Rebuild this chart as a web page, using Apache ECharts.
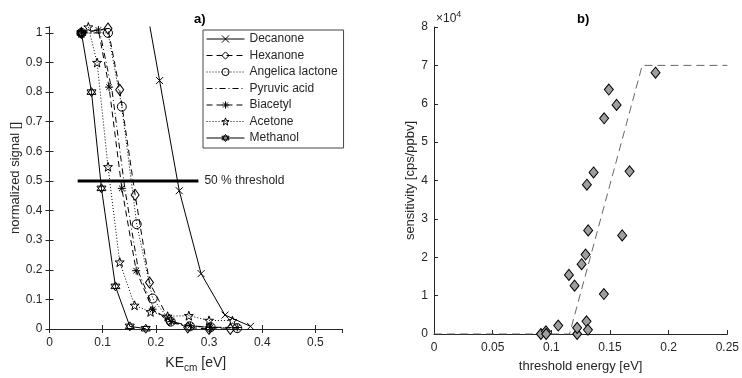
<!DOCTYPE html>
<html>
<head>
<meta charset="utf-8">
<script src="https://cdn.jsdelivr.net/npm/echarts@6/dist/echarts.min.js"></script>
<style>
html, body { margin: 0; padding: 0; background: #fff; }
#main { width: 742px; height: 378px; }
</style>
</head>
<body>
<div id="main"></div>
<script>
// panel a) normalized signal vs KE_cm, [x, y]
var decanone = [[0.161, 1.3], [0.207, 0.839], [0.244, 0.467], [0.285, 0.187], [0.330, 0.047], [0.378, 0.009]];
var hexanone = [[0.06, 1.0], [0.110, 1.015], [0.132, 0.808], [0.161, 0.453], [0.188, 0.157], [0.225, 0.03], [0.260, 0.005], [0.300, 0.0], [0.340, 0.0]];
var angelica = [[0.06, 1.0], [0.11, 1.0], [0.136, 0.751], [0.164, 0.354], [0.194, 0.103], [0.228, 0.025], [0.264, 0.009], [0.303, 0.006], [0.353, 0.003]];
var pyruvic = [[0.06, 1.0], [0.095, 1.0], [0.118, 0.80], [0.142, 0.47], [0.168, 0.19], [0.198, 0.06], [0.23, 0.02], [0.265, 0.01], [0.305, 0.005], [0.355, 0.003]];
var biacetyl = [[0.06, 1.0], [0.092, 1.01], [0.112, 0.817], [0.136, 0.475], [0.163, 0.197], [0.194, 0.067], [0.229, 0.025], [0.265, 0.011], [0.303, 0.006], [0.353, 0.005]];
var acetone = [[0.06, 1.0], [0.073, 1.02], [0.0895, 0.90], [0.110, 0.548], [0.132, 0.226], [0.160, 0.08], [0.19, 0.058], [0.222, 0.043], [0.262, 0.045], [0.30, 0.029], [0.344, 0.028]];
var methanol = [[0.06, 1.0], [0.079, 0.80], [0.0977, 0.475], [0.124, 0.144], [0.151, 0.009], [0.181, 0.001]];
var threshold = [[0.053, 0.5], [0.280, 0.5]];

// panel b) sensitivity vs threshold energy
var thrEnergy = [0.0911, 0.0954, 0.0956, 0.1059, 0.115, 0.1198, 0.122, 0.122, 0.1258, 0.1292, 0.130, 0.1312, 0.1314, 0.1303, 0.136, 0.1448, 0.1604, 0.1667, 0.145, 0.149, 0.1556, 0.1888];
var sensitivity = [0, 700, 0, 2200, 15400, 12600, 0, 1600, 18200, 20700, 3300, 1100, 27000, 38900, 42100, 10400, 25700, 42400, 56200, 63700, 59700, 68100];
var fitX = [0, 0.1155, 0.1775, 0.25];
var fitY = [0, 0, 70000, 70000];

var txt = '#262626';
var font = 'Liberation Sans, Arial, sans-serif';

var symX = 'path://M0,0L10,10M10,0L0,10';
var symAst = 'path://M5,0L5,10M0,5L10,5M1.5,1.5L8.5,8.5M8.5,1.5L1.5,8.5';
var symStar = 'path://M5,0L6.18,3.38L9.76,3.45L6.9,5.62L7.94,9.05L5,7L2.06,9.05L3.1,5.62L0.24,3.45L3.82,3.38Z';
var symHex = 'path://M5,0L9.33,7.5L0.67,7.5ZM5,10L0.67,2.5L9.33,2.5Z';

function curve(name, data, sym, size, dash) {
	return {
		name: name,
		type: 'line',
		xAxisIndex: 0,
		yAxisIndex: 0,
		data: data,
		symbol: sym,
		symbolSize: size,
		showAllSymbol: true,
		clip: true,
		lineStyle: { color: '#000', width: 1, type: dash },
		itemStyle: { color: 'rgba(255,255,255,0)', borderColor: '#000', borderWidth: 1 },
		emphasis: { disabled: true },
		z: 3
	};
}

function box(gi, pos, min, max, step) {
	return {
		type: 'value', gridIndex: gi, position: pos,
		min: min, max: max, interval: step,
		axisLine: { show: true, lineStyle: { color: txt, width: 1 } },
		axisTick: { show: true, inside: true, length: 4, lineStyle: { color: txt } },
		axisLabel: { show: false },
		splitLine: { show: false }
	};
}

var chart = echarts.init(document.getElementById('main'));
var option = {
	animation: false,
	backgroundColor: '#fff',
	textStyle: { fontFamily: font },
	title: [
		{ text: 'a)', left: 189, top: 8, textStyle: { fontSize: 13, fontWeight: 'bold', color: '#000', fontFamily: font } },
		{ text: 'b)', left: 572, top: 8, textStyle: { fontSize: 13, fontWeight: 'bold', color: '#000', fontFamily: font } }
	],
	grid: [
		{ left: 49.5, right: 400, top: 27, bottom: 42 },
		{ left: 434, right: 14, top: 27, bottom: 42 }
	],
	legend: {
		data: ['Decanone', 'Hexanone', 'Angelica lactone',
			{ name: 'Pyruvic acid', itemStyle: { color: 'rgba(0,0,0,0)', borderWidth: 0 } },
			'Biacetyl', 'Acetone', 'Methanol'],
		orient: 'vertical',
		left: 203, top: 30,
		itemWidth: 38, itemHeight: 9, itemGap: 4.5,
		padding: [3, 6, 4, 3],
		borderColor: '#444', borderWidth: 1,
		backgroundColor: '#fff',
		lineStyle: { width: 1 },
		itemStyle: { color: 'rgba(255,255,255,0)', borderColor: '#000', borderWidth: 1 },
		textStyle: { fontSize: 12, color: txt, fontFamily: font },
		selectedMode: false
	},
	graphic: [{
		type: 'text', left: 436, top: 10,
		style: {
			text: '{a|×10}{b|4}',
			rich: {
				a: { fontSize: 12, fill: txt, fontFamily: font, padding: [4, 0, 0, 0] },
				b: { fontSize: 9, fill: txt, fontFamily: font, padding: [0, 0, 4, 0] }
			}
		}
	}],
	xAxis: [{
		type: 'value', gridIndex: 0, min: 0, max: 0.55, interval: 0.1,
		name: '{n|KE}{s|cm}{n| [eV]}', nameLocation: 'middle', nameGap: 25,
		nameTextStyle: {
			rich: {
				n: { fontSize: 14, color: txt, fontFamily: font },
				s: { fontSize: 10, color: txt, fontFamily: font, padding: [9, 0, 0, 0] }
			}
		},
		axisLine: { lineStyle: { color: txt } },
		axisTick: { inside: true, length: 4, lineStyle: { color: txt } },
		axisLabel: { color: txt, fontSize: 12, margin: 8, showMaxLabel: false, fontFamily: font },
		splitLine: { show: false }
	}, box(0, 'top', 0, 0.55, 0.1), {
		type: 'value', gridIndex: 1, min: 0, max: 0.25, interval: 0.05,
		name: 'threshold energy [eV]', nameLocation: 'middle', nameGap: 26,
		nameTextStyle: { fontSize: 13, color: txt, fontFamily: font },
		axisLine: { lineStyle: { color: txt } },
		axisTick: { inside: true, length: 4, lineStyle: { color: txt } },
		axisLabel: { color: txt, fontSize: 12, margin: 8, fontFamily: font },
		splitLine: { show: false }
	}],
	yAxis: [{
		type: 'value', gridIndex: 0, min: 0, max: 1.02, interval: 0.1,
		name: 'normalized signal []', nameLocation: 'middle', nameGap: 25,
		nameTextStyle: { fontSize: 13, color: txt, fontFamily: font },
		axisLine: { show: true, lineStyle: { color: txt } },
		axisTick: { show: true, inside: true, length: 4, lineStyle: { color: txt } },
		axisLabel: { color: txt, fontSize: 12, margin: 7, showMaxLabel: false, fontFamily: font },
		splitLine: { show: false }
	}, box(0, 'right', 0, 1.02, 0.1), {
		type: 'value', gridIndex: 1, min: 0, max: 80000, interval: 10000,
		name: 'sensitivity [cps/ppbv]', nameLocation: 'middle', nameGap: 17,
		nameTextStyle: { fontSize: 13, color: txt, fontFamily: font },
		axisLine: { show: true, lineStyle: { color: txt } },
		axisTick: { show: true, inside: true, length: 4, lineStyle: { color: txt } },
		axisLabel: { color: txt, fontSize: 12, margin: 6, fontFamily: font,
			formatter: function (v) { return String(v / 10000); } },
		splitLine: { show: false }
	}],
	series: [
		curve('Decanone', decanone, symX, 7, 'solid'),
		curve('Hexanone', hexanone, 'diamond', [8, 11], [6, 4]),
		curve('Angelica lactone', angelica, 'circle', 9, [1, 2]),
		curve('Pyruvic acid', pyruvic, 'none', 0, [6, 3, 1, 3]),
		curve('Biacetyl', biacetyl, symAst, 8, [6, 4]),
		curve('Acetone', acetone, symStar, 9, [1, 2]),
		curve('Methanol', methanol, symHex, 9, 'solid'),
		{
			name: '50 % threshold', type: 'line', xAxisIndex: 0, yAxisIndex: 0,
			data: threshold, symbol: 'none',
			lineStyle: { color: '#000', width: 3 },
			endLabel: { show: true, formatter: '50 % threshold', color: txt, fontSize: 12, distance: 6, fontFamily: font },
			z: 4
		},
		{
			name: 'fit', type: 'line', xAxisIndex: 2, yAxisIndex: 2,
			data: fitX.map(function (x, i) { return [x, fitY[i]]; }),
			symbol: 'none',
			lineStyle: { color: '#666', width: 1, type: [8, 5] },
			z: 2
		},
		{
			name: 'sensitivity', type: 'scatter', xAxisIndex: 2, yAxisIndex: 2,
			data: thrEnergy.map(function (x, i) { return [x, sensitivity[i]]; }),
			symbol: 'diamond', symbolSize: [9, 11],
			itemStyle: { color: '#9e9e9e', borderColor: '#000', borderWidth: 1, opacity: 1 },
			z: 3
		}
	]
};
chart.setOption(option);
window.onresize = chart.resize;
</script>
</body>
</html>
